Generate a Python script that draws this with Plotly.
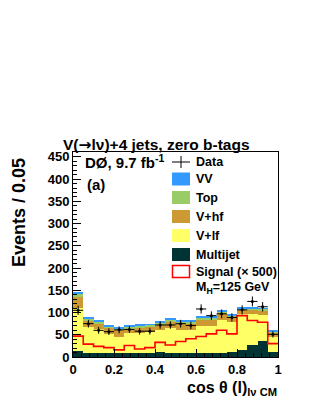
import numpy as np
import plotly.graph_objects as go

# ---- data ----
bin_edges = [round(0.05 * i, 2) for i in range(21)]
multijet = [13, 10, 10, 8, 10, 8, 9, 9, 12, 9, 10, 8, 10, 10, 10, 12, 16, 28, 36, 12]
v_lf     = [97, 58, 52, 44, 34, 46, 46, 47, 48, 57, 51, 53, 60, 60, 74, 66, 81, 69, 59, 34]
v_hf     = [26, 14, 14, 14, 18, 11, 12, 13, 13, 14, 14, 14, 14, 14, 14, 12, 9, 9, 9, 9]
top      = [7, 4, 4, 3, 3, 3, 3, 3, 4, 4, 4, 4, 4, 4, 5, 4, 4, 4, 4, 3]
vv       = [3, 2, 2, 2, 2, 2, 2, 2, 2, 2, 2, 2, 2, 2, 2, 2, 2, 2, 2, 2]
data     = [105, 75, 60, 57, 61, 62, 58, 58, 72, 72, 75, 71, 108, 93, 97, 89, 106, 125, 113, 51]
signal   = [47, 29, 24, 21, 16, 26, 18, 21, 33, 27, 35, 41, 46, 52, 60, 52, 93, 82, 78, 30]

x_ticks = [0, 0.2, 0.4, 0.6, 0.8, 1]
x_tick_labels = ["0", "0.2", "0.4", "0.6", "0.8", "1"]
y_ticks = [0, 50, 100, 150, 200, 250, 300, 350, 400, 450]

colors = {
    "Multijet": "#003333",
    "V+lf": "#ffff66",
    "V+hf": "#cc9933",
    "Top": "#99cc66",
    "VV": "#3399ff",
}

centers = [(bin_edges[i] + bin_edges[i + 1]) / 2 for i in range(20)]
FONT = "Liberation Sans"

fig = go.Figure()
for name, vals in [("Multijet", multijet), ("V+lf", v_lf), ("V+hf", v_hf), ("Top", top), ("VV", vv)]:
    fig.add_trace(go.Bar(x=centers, y=vals, width=0.05, name=name,
                         marker=dict(color=colors[name], line=dict(width=0)),
                         showlegend=False))

fig.add_trace(go.Scatter(x=bin_edges, y=signal + [signal[-1]], mode="lines",
                         line=dict(color="#ff0000", width=1.6, shape="hv"),
                         showlegend=False))

fig.add_trace(go.Scatter(x=centers, y=data, mode="markers",
                         marker=dict(color="black", size=3),
                         error_y=dict(type="data", array=list(np.sqrt(data)), width=0,
                                      thickness=1, color="black"),
                         error_x=dict(type="constant", value=0.025, width=0,
                                      thickness=1, color="black"),
                         showlegend=False))

# plot frame in page pixels; page has an 8px body margin
OFF = 8
L, R, T, B = 73, 278, 152, 357
W = R - L
H = B - T


def px(x):
    return (x - L) / W


def py(y):
    return (B - y) / H


shapes = []
annotations = []

# legend
leg_x0, leg_x1 = 172, 190
text_x = 194
yc = 162
shapes.append(dict(type="line", xref="paper", yref="paper", x0=px(leg_x0), x1=px(leg_x1),
                   y0=py(yc), y1=py(yc), line=dict(color="black", width=1)))
shapes.append(dict(type="line", xref="paper", yref="paper", x0=px(181), x1=px(181),
                   y0=py(yc - 6), y1=py(yc + 6), line=dict(color="black", width=1)))
annotations.append(dict(xref="paper", yref="paper", x=px(text_x), y=py(yc), text="<b>Data</b>",
                        showarrow=False, xanchor="left", yanchor="middle",
                        font=dict(family=FONT, size=12.5, color="black")))

legend_rows = [("VV", 179), ("Top", 197.5), ("V+hf", 216.5), ("V+lf", 235.5), ("Multijet", 254.5)]
for name, yc in legend_rows:
    shapes.append(dict(type="rect", xref="paper", yref="paper", x0=px(leg_x0), x1=px(leg_x1),
                       y0=py(yc + 6.5), y1=py(yc - 6.5), fillcolor=colors[name],
                       line=dict(width=0)))
    annotations.append(dict(xref="paper", yref="paper", x=px(text_x), y=py(yc),
                            text="<b>%s</b>" % name, showarrow=False, xanchor="left",
                            yanchor="middle", font=dict(family=FONT, size=12.5, color="black")))

yc = 271.5
shapes.append(dict(type="rect", xref="paper", yref="paper", x0=px(leg_x0 + 0.5), x1=px(leg_x1 - 0.5),
                   y0=py(yc + 6), y1=py(yc - 6), fillcolor="white",
                   line=dict(color="#ff0000", width=1.5)))
annotations.append(dict(xref="paper", yref="paper", x=px(text_x), y=py(yc),
                        text="<b>Signal (× 500)</b>", showarrow=False, xanchor="left",
                        yanchor="middle", font=dict(family=FONT, size=12.5, color="black")))
annotations.append(dict(xref="paper", yref="paper", x=px(text_x), y=py(288),
                        text="<b>M<sub>H</sub>=125 GeV</b>", showarrow=False, xanchor="left",
                        yanchor="middle", font=dict(family=FONT, size=12.5, color="black")))

# labels
annotations.append(dict(xref="paper", yref="paper", x=px(83), y=py(161),
                        text="<b>DØ, 9.7 fb<sup>-1</sup></b>", showarrow=False, xanchor="left",
                        yanchor="middle", font=dict(family=FONT, size=15, color="black")))
annotations.append(dict(xref="paper", yref="paper", x=px(85), y=py(184),
                        text="<b>(a)</b>", showarrow=False, xanchor="left",
                        yanchor="middle", font=dict(family=FONT, size=15, color="black")))
annotations.append(dict(xref="paper", yref="paper", x=px(61), y=py(145),
                        text="<b>V(<span style=\"font-family:DejaVu Sans\">→</span>lν)+4 jets, zero b-tags</b>",
                        showarrow=False, xanchor="left",
                        yanchor="middle", font=dict(family=FONT, size=15.5, color="black")))
annotations.append(dict(xref="paper", yref="paper", x=px(19), y=py(213),
                        text="<b>Events / 0.05</b>", showarrow=False, textangle=-90,
                        xanchor="center", yanchor="middle",
                        font=dict(family=FONT, size=18, color="black")))
annotations.append(dict(xref="paper", yref="paper", x=px(279), y=py(377),
                        text="<b>cos θ (l)<sub>lν CM</sub></b>", showarrow=False,
                        xanchor="right", yanchor="top",
                        font=dict(family=FONT, size=16, color="black")))

fig.update_layout(
    width=316, height=409,
    margin=dict(l=L - OFF, r=316 - (R - OFF), t=T - OFF, b=409 - (B - OFF), pad=0),
    barmode="stack", bargap=0,
    plot_bgcolor="white", paper_bgcolor="white",
    showlegend=False,
    shapes=shapes, annotations=annotations,
    font=dict(family=FONT, color="black"),
)
fig.update_xaxes(range=[0, 1], tickvals=x_ticks, ticktext=x_tick_labels,
                 showline=True, linecolor="black", linewidth=1, mirror=True,
                 ticks="inside", ticklen=8, tickcolor="black",
                 tickfont=dict(family=FONT, size=13, weight="bold", color="black"),
                 minor=dict(ticks="inside", ticklen=4, dtick=0.04, tick0=0, tickcolor="black"),
                 showgrid=False, zeroline=False)
fig.update_yaxes(range=[0, 461], tickvals=y_ticks,
                 showline=True, linecolor="black", linewidth=1, mirror=True,
                 ticks="inside", ticklen=8, tickcolor="black",
                 tickfont=dict(family=FONT, size=13, weight="bold", color="black"),
                 minor=dict(ticks="inside", ticklen=4, dtick=10, tick0=0, tickcolor="black"),
                 showgrid=False, zeroline=False)

fig.write_html("out.html")
